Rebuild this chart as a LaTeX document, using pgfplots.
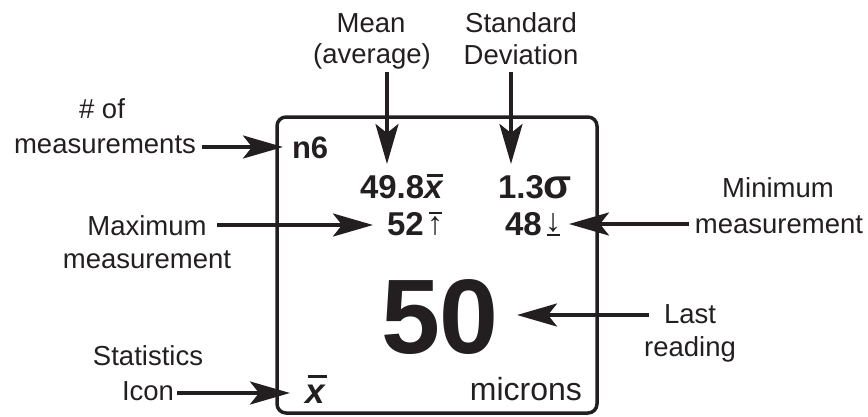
\documentclass[border=0pt]{standalone}
\usepackage{graphicx}
\usepackage{pgfplots}
\pgfplotsset{compat=1.18}
\usepackage{fontspec}
\setmainfont{Liberation Sans}
\usetikzlibrary{arrows.meta}
\definecolor{ink}{HTML}{231F20}
\newcommand{\xbar}[3]{\hbox{\rlap{\hspace{#1}\rule[#2]{#3}{0.09em}}\textbf{\textit{x}}}}
\newcommand{\lab}{\fontsize{27.5}{33}\selectfont}
\newcommand{\num}{\fontsize{33}{33}\selectfont\bfseries}
\newcommand{\uparr}{\hbox{\rlap{\rule[21pt]{13pt}{2pt}}\hbox to 13pt{\hss\resizebox{!}{19pt}{\mdseries\raisebox{\depth}{↑}}\hss}}}
\newcommand{\downarr}{\hbox{\rlap{\rule[-1pt]{13pt}{2pt}}\hbox to 13pt{\hss\raisebox{3pt}{\resizebox{!}{19pt}{\mdseries\raisebox{\depth}{↓}}}\hss}}}
\begin{document}
\begin{tikzpicture}
\begin{axis}[width=868pt,height=416pt,scale only axis,
  xmin=0,xmax=868,ymin=0,ymax=416,y dir=reverse,hide axis,clip=false]
% display frame
\addplot[ink,line width=3.5pt,rounded corners=9pt] coordinates {(437,117) (597,117) (597,413) (277,413) (277,117) (437,117)};
% arrows
\pgfplotsset{arr/.style={ink,line width=3.5pt,-{Stealth[length=40pt,width=23pt,inset=9pt]}}}
\addplot[arr] coordinates {(387,72) (387,164)};
\addplot[arr] coordinates {(511,72) (511,164)};
\addplot[arr] coordinates {(202,147) (283,147)};
\addplot[arr] coordinates {(217,225) (373,225)};
\addplot[arr] coordinates {(689,224) (569,224)};
\addplot[arr] coordinates {(649,315) (517,315)};
\addplot[arr] coordinates {(177,393) (290,393)};
% labels
\tikzset{every node/.style={inner sep=0pt,outer sep=0pt,text=ink}}
\node[anchor=base] at (axis cs:371,32) {\lab Mean};
\node[anchor=base] at (axis cs:372,63) {\lab (average)};
\node[anchor=base] at (axis cs:521,32) {\lab Standard};
\node[anchor=base] at (axis cs:521,64) {\lab Deviation};
\node[anchor=base] at (axis cs:102,118) {\lab \# of};
\node[anchor=base] at (axis cs:105,153) {\lab measurements};
\node[anchor=base] at (axis cs:147,235) {\lab Maximum};
\node[anchor=base] at (axis cs:147,268) {\lab measurement};
\node[anchor=base] at (axis cs:148,365) {\lab Statistics};
\node[anchor=base] at (axis cs:148,400) {\lab Icon};
\node[anchor=base] at (axis cs:778,197) {\lab Minimum};
\node[anchor=base] at (axis cs:779,233) {\lab measurement};
\node[anchor=base] at (axis cs:690,323) {\lab Last};
\node[anchor=base] at (axis cs:690,356) {\lab reading};
% display contents
\node[anchor=base west] at (axis cs:292,158) {\fontsize{31}{31}\selectfont\bfseries n6};
\node[anchor=base west] at (axis cs:360,198) {\num 49.8\xbar{0.08em}{0.63em}{0.5em}};
\node[anchor=base west] at (axis cs:498,198) {\num 1.3{\fontsize{41}{41}\selectfont σ}};
\node[anchor=base west] at (axis cs:387,235) {\num 52\hspace{5pt}\uparr};
\node[anchor=base west] at (axis cs:505,235) {\num 48\hspace{5pt}\downarr};
\node[anchor=base] at (axis cs:440,353) {\fontsize{106}{106}\selectfont\bfseries 50};
\node[anchor=base east] at (axis cs:582,400) {\fontsize{32}{32}\selectfont microns};
\node[anchor=base west] at (axis cs:305,403) {\fontsize{35}{35}\selectfont\xbar{0.08em}{0.72em}{0.55em}};
\end{axis}
\pgfresetboundingbox
\useasboundingbox (0,0) rectangle (868pt,416pt);
\end{tikzpicture}
\end{document}
